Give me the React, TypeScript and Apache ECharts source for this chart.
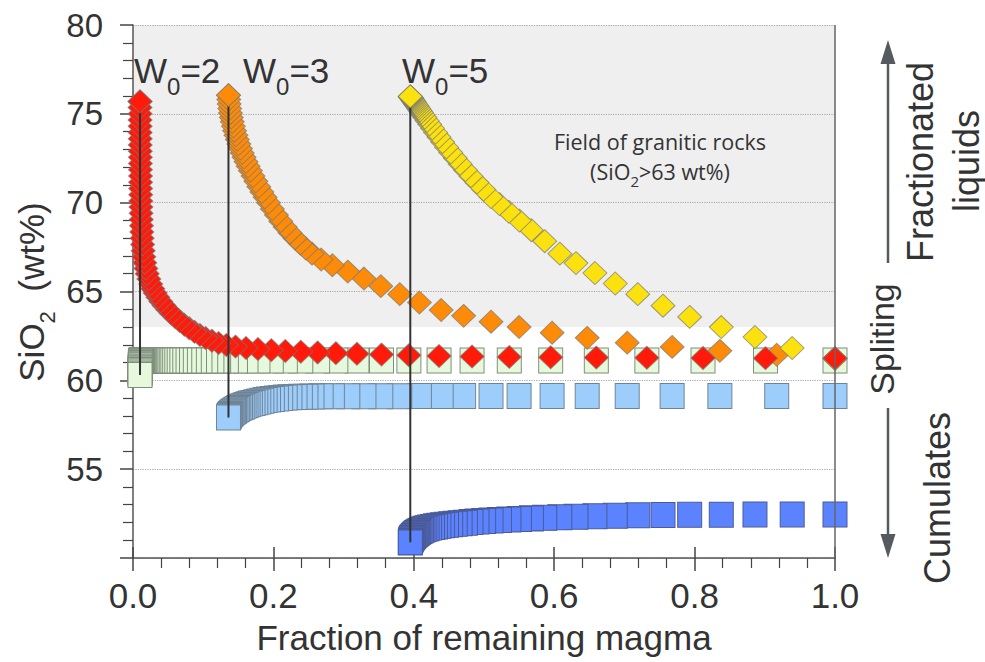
import React, { useEffect, useRef } from 'react';
import * as echarts from 'echarts';

// ---------------- data ----------------
// W0 = 2 : fraction of remaining magma, fractionated liquid SiO2, cumulate SiO2
const fracW2 = [
  0.0100, 0.0100, 0.0101, 0.0101, 0.0102, 0.0102, 0.0103, 0.0103, 0.0104, 0.0105,
  0.0105, 0.0106, 0.0107, 0.0108, 0.0109, 0.0110, 0.0111, 0.0113, 0.0115, 0.0118,
  0.0121, 0.0125, 0.0130, 0.0137, 0.0145, 0.0155, 0.0168, 0.0184, 0.0203, 0.0226,
  0.0252, 0.0282, 0.0316, 0.0354, 0.0396, 0.0442, 0.0492, 0.0546, 0.0604, 0.0666,
  0.0732, 0.0802, 0.0876, 0.0954, 0.1036, 0.1124, 0.1220, 0.1330, 0.1460, 0.1610,
  0.1780, 0.1970, 0.2170, 0.2390, 0.2630, 0.2890, 0.3190, 0.3540, 0.3930, 0.4360,
  0.4830, 0.5360, 0.5950, 0.6600, 0.7320, 0.8120, 0.9010, 1.0000,
];
const liqW2 = [
  75.70, 75.35, 75.00, 74.65, 74.30, 73.95, 73.60, 73.25, 72.90, 72.55,
  72.20, 71.85, 71.50, 71.15, 70.80, 70.45, 70.10, 69.75, 69.40, 69.05,
  68.70, 68.35, 68.00, 67.65, 67.30, 66.95, 66.62, 66.30, 66.00, 65.70,
  65.42, 65.16, 64.91, 64.67, 64.44, 64.21, 63.98, 63.76, 63.55, 63.34,
  63.13, 62.93, 62.73, 62.55, 62.38, 62.23, 62.10, 61.99, 61.90, 61.82,
  61.76, 61.70, 61.65, 61.61, 61.57, 61.53, 61.49, 61.45, 61.41, 61.37,
  61.34, 61.32, 61.30, 61.28, 61.27, 61.26, 61.25, 61.24,
];
const cumW2 = [
  60.30, 60.37, 60.44, 60.51, 60.58, 60.65, 60.71, 60.77, 60.83, 60.88,
  60.93, 60.97, 61.01, 61.04, 61.06, 61.08, 61.09, 61.10, 61.11, 61.12,
  61.12, 61.12, 61.12, 61.12, 61.12, 61.12, 61.12, 61.12, 61.12, 61.12,
  61.12, 61.12, 61.12, 61.12, 61.12, 61.12, 61.12, 61.12, 61.12, 61.12,
  61.12, 61.12, 61.12, 61.12, 61.12, 61.12, 61.12, 61.12, 61.12, 61.12,
  61.12, 61.12, 61.12, 61.12, 61.12, 61.12, 61.12, 61.12, 61.12, 61.12,
  61.12, 61.12, 61.12, 61.12, 61.12, 61.12, 61.12, 61.12,
];

// W0 = 3
const fracW3 = [
  0.1360, 0.1364, 0.1370, 0.1378, 0.1388, 0.1400, 0.1414, 0.1430, 0.1447, 0.1466,
  0.1486, 0.1508, 0.1531, 0.1556, 0.1582, 0.1610, 0.1640, 0.1672, 0.1710, 0.1750,
  0.1792, 0.1836, 0.1882, 0.1930, 0.1985, 0.2043, 0.2104, 0.2168, 0.2236, 0.2308,
  0.2384, 0.2464, 0.2550, 0.2680, 0.2840, 0.3060, 0.3290, 0.3530, 0.3800, 0.4080,
  0.4390, 0.4710, 0.5100, 0.5500, 0.5970, 0.6470, 0.7040, 0.7680, 0.8360, 0.9170,
  1.0000,
];
const liqW3 = [
  76.05, 75.80, 75.55, 75.30, 75.05, 74.80, 74.55, 74.30, 74.05, 73.80,
  73.55, 73.30, 73.05, 72.80, 72.55, 72.30, 72.05, 71.80, 71.50, 71.20,
  70.90, 70.60, 70.30, 70.00, 69.65, 69.30, 68.96, 68.63, 68.31, 68.00,
  67.70, 67.41, 67.13, 66.80, 66.48, 66.12, 65.73, 65.30, 64.85, 64.38,
  63.96, 63.63, 63.30, 63.00, 62.68, 62.39, 62.12, 61.88, 61.66, 61.44,
  61.25,
];
const cumW3 = [
  57.91, 57.95, 58.00, 58.05, 58.10, 58.15, 58.20, 58.24, 58.29, 58.34,
  58.39, 58.44, 58.48, 58.52, 58.57, 58.61, 58.65, 58.69, 58.73, 58.77,
  58.81, 58.85, 58.89, 58.92, 58.95, 58.98, 59.01, 59.03, 59.05, 59.06,
  59.07, 59.08, 59.09, 59.10, 59.10, 59.11, 59.11, 59.11, 59.11, 59.12,
  59.12, 59.12, 59.12, 59.12, 59.12, 59.12, 59.12, 59.12, 59.12, 59.12,
  59.12,
];

// W0 = 5
const fracW5 = [
  0.3950, 0.3951, 0.3953, 0.3956, 0.3960, 0.3965, 0.3971, 0.3978, 0.3986, 0.3995,
  0.4005, 0.4016, 0.4028, 0.4041, 0.4055, 0.4070, 0.4088, 0.4108, 0.4130, 0.4158,
  0.4190, 0.4226, 0.4266, 0.4310, 0.4358, 0.4410, 0.4466, 0.4526, 0.4590, 0.4660,
  0.4735, 0.4815, 0.4900, 0.4995, 0.5100, 0.5220, 0.5355, 0.5505, 0.5675, 0.5865,
  0.6080, 0.6310, 0.6580, 0.6870, 0.7190, 0.7550, 0.7930, 0.8380, 0.8860, 0.9390,
  1.0000,
];
const liqW5 = [
  75.98, 75.97, 75.96, 75.94, 75.92, 75.89, 75.86, 75.82, 75.77, 75.72,
  75.66, 75.60, 75.53, 75.46, 75.38, 75.29, 75.19, 75.08, 74.95, 74.79,
  74.61, 74.41, 74.19, 73.95, 73.69, 73.41, 73.12, 72.82, 72.51, 72.18,
  71.84, 71.49, 71.13, 70.74, 70.32, 69.92, 69.48, 68.99, 68.45, 67.83,
  67.13, 66.60, 66.04, 65.45, 64.85, 64.20, 63.57, 63.00, 62.44, 61.82,
  61.20,
];
const cumW5 = [
  50.88, 50.92, 50.96, 51.00, 51.04, 51.08, 51.12, 51.16, 51.20, 51.24,
  51.28, 51.32, 51.36, 51.40, 51.44, 51.48, 51.52, 51.56, 51.60, 51.64,
  51.68, 51.72, 51.75, 51.78, 51.81, 51.84, 51.87, 51.90, 51.93, 51.96,
  51.99, 52.02, 52.05, 52.08, 52.11, 52.14, 52.17, 52.20, 52.23, 52.26,
  52.29, 52.32, 52.35, 52.38, 52.40, 52.42, 52.43, 52.44, 52.45, 52.45,
  52.45,
];

const w0Values = [2, 3, 5];
const graniteMinSiO2 = 63;

const X_MIN = 0;
const X_MAX = 1;
const X_STEP = 0.2;
const Y_MIN = 50;
const Y_MAX = 80;
const Y_STEP = 5;

// ---------------- styling ----------------
const TXT = '#333';
const SANS = "'Liberation Sans', Arial, Helvetica, sans-serif";
const HUMAN = "'Open Sans', 'Noto Sans', sans-serif";
const CF_SANS = 0.3465; // central-baseline offset (em) for Liberation Sans
const CF_HUMAN = 0.388; // for Open Sans

const pts = (xs: number[], ys: number[]) => xs.map((x, i) => [x, ys[i]]);
// first point drawn on top -> reverse drawing order
const frontFirst = (xs: number[], ys: number[]) => pts(xs, ys).reverse();

export default function App() {
  const ref = useRef<HTMLDivElement>(null);

  useEffect(() => {
    if (!ref.current) return;
    document.body.style.margin = '0';
    const chart = echarts.init(ref.current, null, { renderer: 'svg' });

    const ctx = document.createElement('canvas').getContext('2d') as CanvasRenderingContext2D;
    const measure = (t: string, font: string) => {
      ctx.font = font;
      return ctx.measureText(t).width;
    };

    type Part = { t: string; size: number; dy?: number };
    const runWidth = (parts: Part[], family: string) =>
      parts.reduce((s, p) => s + measure(p.t, `${p.size}px ${family}`), 0);
    const runText = (parts: Part[], family: string, cf: number, startX: number, baseline: number, color: string) => {
      let x = startX;
      const els: any[] = [];
      for (const p of parts) {
        const font = `${p.size}px ${family}`;
        els.push({
          type: 'text',
          x,
          y: baseline + (p.dy || 0) - cf * p.size,
          silent: true,
          style: {
            text: p.t, font, fill: color,
            align: 'left', verticalAlign: 'middle',
            textAlign: 'left', textVerticalAlign: 'middle',
          },
        });
        x += measure(p.t, font);
      }
      return els;
    };

    const rotText = (t: string, size: number, x: number, y: number) => ({
      type: 'text', x, y, rotation: Math.PI / 2, silent: true,
      style: {
        text: t, font: `${size}px ${SANS}`, fill: TXT,
        align: 'center', verticalAlign: 'middle',
        textAlign: 'center', textVerticalAlign: 'middle',
      },
    });

    // W0 labels
    const wLefts = [134, 243, 402];
    const wEls: any[] = [];
    w0Values.forEach((w, i) => {
      wEls.push(...runText(
        [{ t: 'W', size: 35 }, { t: '0', size: 24, dy: 12 }, { t: `=${w}`, size: 35 }],
        SANS, CF_SANS, wLefts[i], 83, TXT,
      ));
    });

    // Field of granitic rocks
    const fieldLine1: Part[] = [{ t: 'Field of granitic rocks', size: 21.5 }];
    const fieldLine2: Part[] = [
      { t: '(SiO', size: 21.5 }, { t: '2', size: 15, dy: 7 }, { t: `>${graniteMinSiO2} wt%)`, size: 21.5 },
    ];
    const fieldEls = [
      ...runText(fieldLine1, HUMAN, CF_HUMAN, 660 - runWidth(fieldLine1, HUMAN) / 2, 150, TXT),
      ...runText(fieldLine2, HUMAN, CF_HUMAN, 660 - runWidth(fieldLine2, HUMAN) / 2, 180, TXT),
    ];

    // y-axis title, rotated
    const yTitle: Part[] = [
      { t: 'SiO', size: 35 }, { t: '2', size: 22, dy: 12 }, { t: '  ', size: 35 }, { t: '(wt%)', size: 35 },
    ];
    const yTitleW = runWidth(yTitle, SANS);
    const yTitleGroup = {
      type: 'group', x: 31, y: 292, rotation: Math.PI / 2,
      children: runText(yTitle, SANS, CF_SANS, -yTitleW / 2, CF_SANS * 35, TXT),
    };

    const ARROW = '#555a5e';
    const arrows = [
      { type: 'line', silent: true, shape: { x1: 888, y1: 263, x2: 888, y2: 60 }, style: { stroke: ARROW, lineWidth: 2.5 } },
      { type: 'polygon', silent: true, shape: { points: [[888, 40], [880.5, 64], [895.5, 64]] }, style: { fill: ARROW } },
      { type: 'line', silent: true, shape: { x1: 888, y1: 408, x2: 888, y2: 540 }, style: { stroke: ARROW, lineWidth: 2.5 } },
      { type: 'polygon', silent: true, shape: { points: [[888, 558], [880.5, 534], [895.5, 534]] }, style: { fill: ARROW } },
    ];

    const sideTexts = [
      rotText('Fractionated', 36, 920, 162),
      rotText('liquids', 36, 966, 161),
      rotText('Spliting', 34, 882, 339),
      rotText('Cumulates', 36, 937, 498),
    ];

    const diamondBorder = 'rgba(120,120,120,0.7)';
    const liquid = (name: string, xs: number[], ys: number[], color: string, z: number) => ({
      name, type: 'scatter', symbol: 'diamond', symbolSize: [24, 23], z,
      itemStyle: { color, borderColor: diamondBorder, borderWidth: 1, opacity: 1 },
      data: frontFirst(xs, ys), silent: true,
    });
    const cumulate = (name: string, xs: number[], ys: number[], color: string, border: string) => ({
      name, type: 'scatter', symbol: 'rect', symbolSize: [24, 25], z: 2,
      itemStyle: { color, borderColor: border, borderWidth: 1, opacity: 1 },
      data: frontFirst(xs, ys), silent: true,
    });
    const connector = (xs: number[], liq: number[], cum: number[]) => ({
      type: 'line', z: 6, symbol: 'none', silent: true,
      lineStyle: { color: '#333', width: 2 },
      data: [[xs[0], liq[0]], [xs[0], cum[0]]],
    });

    const RED = '#ff1a0a';
    const ORANGE = '#fd8b08';
    const YELLOW = '#fbe20f';

    const axisLineStyle = { color: '#555', width: 1.5 };
    const tickStyle = { color: '#444', width: 1.5 };

    const option: any = {
      animation: false,
      grid: { left: 133, right: 150, top: 25, bottom: 104, containLabel: false },
      xAxis: [
        {
          type: 'value', min: X_MIN, max: X_MAX, interval: X_STEP, position: 'bottom',
          axisLine: { show: true, onZero: false, lineStyle: axisLineStyle },
          axisTick: { show: true, length: 13, lineStyle: tickStyle },
          minorTick: { show: true, splitNumber: 5, length: 10, lineStyle: { color: '#444', width: 1.2 } },
          axisLabel: {
            fontSize: 35, color: TXT, fontFamily: SANS, margin: 20,
            formatter: (v: number) => v.toFixed(1),
          },
          splitLine: { show: false },
          name: 'Fraction of remaining magma', nameLocation: 'middle', nameGap: 62,
          nameTextStyle: { fontSize: 35, color: TXT, fontFamily: SANS },
        },
        {
          type: 'value', min: X_MIN, max: X_MAX, interval: X_STEP, position: 'bottom',
          axisLine: { show: false, onZero: false },
          axisTick: { show: true, inside: true, length: 11, lineStyle: tickStyle },
          axisLabel: { show: false },
          splitLine: { show: false },
        },
      ],
      yAxis: {
        type: 'value', min: Y_MIN, max: Y_MAX, interval: Y_STEP,
        axisLine: { show: true, onZero: false, lineStyle: axisLineStyle },
        axisTick: { show: true, length: 13, lineStyle: tickStyle },
        minorTick: { show: true, splitNumber: 5, length: 10, lineStyle: { color: '#444', width: 1.2 } },
        axisLabel: { fontSize: 33, color: TXT, fontFamily: SANS, margin: 30, showMinLabel: false },
        splitLine: { show: true, lineStyle: { type: 'dotted', color: '#a8a8a8', width: 1.2 } },
      },
      series: [
        {
          type: 'scatter', data: [], z: -1, silent: true,
          markArea: {
            z: -1, silent: true,
            itemStyle: { color: '#efefef' },
            data: [[{ xAxis: X_MIN, yAxis: graniteMinSiO2 }, { xAxis: X_MAX, yAxis: Y_MAX }]],
          },
        },
        cumulate('Cumulate W0=2', fracW2, cumW2, '#e6f9dc', '#7e8e7b'),
        cumulate('Cumulate W0=3', fracW3, cumW3, '#9dcdfa', '#6f8397'),
        cumulate('Cumulate W0=5', fracW5, cumW5, '#5c83ff', '#4a5a96'),
        liquid('Liquid W0=3', fracW3, liqW3, ORANGE, 3),
        liquid('Liquid W0=5', fracW5, liqW5, YELLOW, 4),
        liquid('Liquid W0=2', fracW2, liqW2, RED, 5),
        connector(fracW2, liqW2, cumW2),
        connector(fracW3, liqW3, cumW3),
        connector(fracW5, liqW5, cumW5),
        {
          type: 'scatter', symbol: 'diamond', symbolSize: [24, 23], z: 7, silent: true,
          data: [
            { value: [fracW2[0], liqW2[0]], itemStyle: { color: RED } },
            { value: [fracW3[0], liqW3[0]], itemStyle: { color: ORANGE } },
            { value: [fracW5[0], liqW5[0]], itemStyle: { color: YELLOW } },
          ],
          itemStyle: { borderColor: diamondBorder, borderWidth: 1, opacity: 1 },
        },
        {
          type: 'scatter', data: [], z: 9, silent: true,
          markLine: {
            z: 9, silent: true, symbol: ['none', 'none'],
            label: { show: false },
            lineStyle: { color: '#666', width: 1.5, type: 'solid' },
            data: [{ xAxis: X_MAX }],
          },
        },
      ],
      graphic: [
        ...wEls,
        ...fieldEls,
        yTitleGroup,
        ...arrows,
        ...sideTexts,
      ],
    };

    chart.setOption(option);
    return () => chart.dispose();
  }, []);

  return (
    <div
      ref={ref}
      style={{ position: 'fixed', left: 0, top: 0, width: 985, height: 662, background: '#fff' }}
    />
  );
}
